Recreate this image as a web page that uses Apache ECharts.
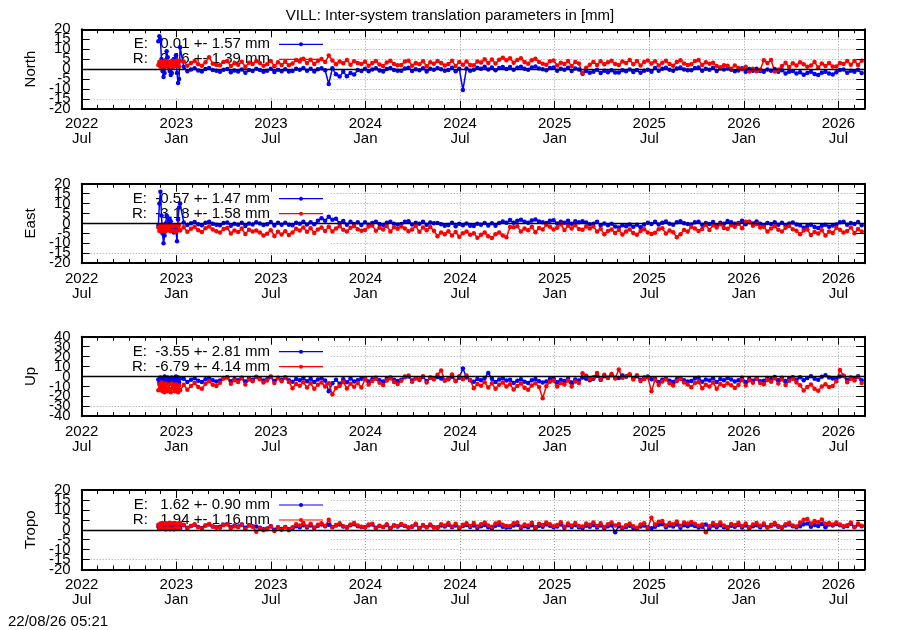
<!DOCTYPE html>
<html><head><meta charset="utf-8">
<script src="https://cdn.jsdelivr.net/npm/echarts@6/dist/echarts.min.js"></script>
<style>html,body{margin:0;padding:0;background:#fff}#c{width:900px;height:630px}</style>
</head><body><div id="c"></div>
<script>
const titleText = 'VILL: Inter-system translation parameters in [mm]';
const stampText = '22/08/26 05:21';
const panelNames = ['North', 'East', 'Up', 'Tropo'];
const yMins = [-20, -20, -40, -20];
const yMaxs = [20, 20, 40, 20];
const ySteps = [5, 5, 10, 5];
const statE = ['  0.01 +- 1.57', ' -0.57 +- 1.47', ' -3.55 +- 2.81', '  1.62 +- 0.90'];
const statR = ['  2.16 +- 1.39', ' -3.18 +- 1.58', ' -6.79 +- 4.14', '  1.94 +- 1.16'];
const monthNames = ['Jan','Feb','Mar','Apr','May','Jun','Jul','Aug','Sep','Oct','Nov','Dec'];
// x axis in days since 2022-07-01
const xMin = 0, xMax = 1511, xInterval = 182.625;
// sampling of the series: first 22 points every 2 days from day 148, then every 7 days from day 197
const firstDay = 148, denseStep = 2, denseCount = 22, mainFirstDay = 197, mainStep = 7;

const northE = [
14, 16.5, 15, 5, -1, -4, -2, 3, 9, 6, 1, -1, -3, -2, 3, 5, 2, 7, -2, -7, -5, 11,
1.2, -1.1, -0.2, 0.4, -0.7, -1.2, 0, 0.5, -0.5, -0.9,
-1.4, -0.3, 0, -1.6, -0.7, -1.2, -0.2, -1.8, -0.5, -1.0,
0.1, -0.5, -1.3, -0.9, 0.2, -1.5, -0.3, -1.1, -0.1, -1.2,
-1.0, 0.1, -0.4, 0.5, -0.8, 0.2, -1.2, -0.1, 0.4, -0.6,
-7.5, 0.4, -2.6, -3.8, -1.4, -3.6, -2.0, -2.8, -0.5, -1.0,
0.2, -1.1, -0.2, 0.4, -0.7, -1.2, 0, 0.5, -0.5, -0.9,
-0.8, 0.3, 0.6, -1.0, -0.1, -0.6, 0.4, -1.2, 0.1, -0.4,
0.5, -0.1, -0.9, -0.5, 0.6, -1.1, 0.2, -10.5, 0.3, -0.8,
-0.4, 0.7, 0.2, 1.1, -0.2, 0.8, -0.6, 0.5, 1.0, 0,
1.0, -0.3, 0.6, 1.2, 0.1, -0.4, 0.8, 1.3, 0.3, -0.1,
-0.6, 0.5, 0.8, -0.8, 0.1, -0.4, 0.6, -1.0, 0.3, -0.2,
-2.4, -1.0, -1.8, -1.4, -0.3, -2.0, -0.8, -1.6, -0.6, -1.7,
-1.7, -0.6, -1.1, -0.2, -1.5, -0.5, -1.9, -0.8, -0.3, -1.3,
0.5, -0.8, 0.1, 0.7, -0.4, -0.9, 0.3, 0.8, -0.2, -0.6,
-0.6, 0.5, 0.8, -0.8, 0.1, -0.4, 0.6, -1.0, 0.3, -0.2,
0.3, -0.3, -1.1, -0.7, 0.4, -1.3, 0, -0.9, 0.1, -1.0,
-1.3, -0.2, -0.8, 0, -1.4, -0.6, -2.2, -1.3, -1.0, -2.2,
-1.6, -2.9, -2.0, -1.4, -2.5, -3.0, -1.8, -1.3, -2.3, -2.7,
-1.6, -0.5, -0.2, -1.8, -0.9, -1.4, -0.4, -2.0
];
const northR = [
2, 3.5, 1.2, 3.8, 1.6, 0.8, 3.6, 1.4, 4, 1.8, 0.9, 3.7, 1.5, 4.2, 2, 1.1, 3.9, 1.7, 4.3, 2.1, 1.3, 4,
3.8, 1.7, 3.1, 4.1, 2.4, 1.6, 3.4, 6.0, 2.7, 2.0,
1.9, 3.6, 4.0, 1.5, 2.9, 2.2, 3.7, 1.2, 3.2, 2.5,
4.0, 3.0, 1.7, 2.4, 4.1, 1.4, 3.4, 2.1, 3.7, 1.9,
2.8, 4.5, 3.8, 5.2, 3.1, 4.7, 2.5, 4.2, 5.0, 3.5,
6.8, 4.3, 2.4, 3.8, 2.9, 4.6, 2.2, 3.9, 3.0, 2.5,
3.7, 1.6, 3.0, 4.0, 2.3, 1.5, 3.3, 4.2, 2.6, 1.9,
2.1, 3.8, 4.2, 1.7, 3.1, 2.4, 3.9, 1.4, 3.4, 2.7,
4.1, 3.1, 1.8, 2.5, 4.2, 1.5, 3.5, 2.2, 3.8, 2.0,
1.9, 3.8, 3.3, 4.9, 3.0, 4.8, 2.8, 4.7, 5.7, 4.4,
5.4, 3.2, 4.5, 5.4, 3.6, 2.7, 4.4, 5.2, 3.5, 2.7,
2.2, 3.9, 4.3, 1.8, 3.2, 2.5, 4.0, 1.5, 3.5, 2.8,
-2.2, 0.6, 2.2, 3.6, 2.0, 3.9, 2.4, 3.4, 4.2, 2.6,
2.1, 3.8, 3.1, 4.5, 2.4, 4.0, 1.8, 3.5, 4.3, 2.8,
3.9, 1.8, 3.2, 4.2, 2.5, 1.7, 3.5, 4.4, 2.8, 2.1,
2.4, 4.1, 4.5, 2.0, 3.4, 2.7, 3.2, 1.5, 0.9, 1.9,
1.6, 0.2, 1.8, 0.5, -0.1, 1.2, -1.2, 0.1, -1.1, -0.4,
4.4, 3.0, 4.6, -1.2, -0.3, 1.5, 3.2, 1.0, 2.9, 1.8,
3.4, 2.4, 1.1, 1.8, 3.5, 0.8, 2.8, 1.5, 3.1, 1.3,
1.3, 3.1, 2.6, 4.1, 2.2, 4.0, 2.0, 4.2
];
const eastE = [
-1, 10, 16, 4, -5, -10, -6, 0, 4, 3, 1, 2, 1, -1, -3.5, -4.5, -1, -3, -9, 2, 8, 10,
0.5, -0.8, 0.1, 0.7, -0.4, -0.9, 0.3, 0.8, -0.2, -0.6,
-0.9, 0.2, 0.5, -1.1, -0.2, -0.7, 0.3, -1.3, 0, -0.5,
0.6, 0, -0.8, -0.4, 0.7, -1.0, 0.3, -0.6, 0.4, -0.7,
-0.9, 0.3, -0.2, 0.8, -0.5, 0.6, -0.4, 1.4, 2.6, 1.3,
3.4, 1.8, 2.4, 0.1, 1.2, -0.6, 0.9, -0.3, 0.6, -0.8,
0.6, -0.7, 0.2, 0.8, -0.3, -0.8, 0.4, 0.9, -0.1, -0.5,
-0.3, 0.8, 1.1, -0.5, 0.4, -0.1, 0.9, -0.7, 0.5, 0.1,
0.2, -0.4, -1.2, -0.8, 0.3, -1.4, -0.2, -0.9, 0, -1.1,
-1.3, -0.2, -0.7, 0.2, -1.0, 0.1, -1.1, 0.2, 1.0, 0.3,
1.7, 0.4, 1.3, 1.9, 0.8, 0.3, 1.5, 2.0, 1.0, 0.6,
0.2, 1.3, 1.6, 0, 0.9, 0.4, 1.4, -0.2, 1.1, 0.6,
1.1, 0.5, -0.4, -0.1, 0.9, -1.0, 0, -0.9, -0.2, -1.5,
-2.0, -0.9, -1.4, -0.5, -1.7, -0.6, -1.9, -0.5, 0.4, -0.3,
0.8, -0.5, 0.4, 1.0, -0.1, -0.6, 0.6, 1.1, 0.1, -0.3,
-0.5, 0.6, 0.9, -0.7, 0.2, -0.3, 0.7, -0.9, 0.4, -0.1,
1.2, 0.6, -0.2, 0.2, 1.3, -0.4, 0.8, 0, 1.0, -0.1,
-0.9, 0.2, -0.3, 0.6, -0.7, 0.3, -1.1, 0, 0.5, -0.5,
-0.9, -2.2, -1.3, -0.7, -1.8, -2.3, -1.1, -0.6, -1.6, -1.0,
-0.5, 0.6, 0.9, -0.7, 0.2, -0.3, 0.7, -0.9
];
const eastR = [
-2, -3.8, -1, -3.5, -0.8, -3.6, -1.2, -4, -1.5, -0.6, -3.4, -1, -3.9, -1.4, -0.9, -3.7, -1.3, -4.1, -1.1, -3.4, -0.7, -3.6,
-1.9, -4.2, -2.7, -1.6, -3.4, -4.3, -2.4, -1.5, -3.1, -3.9,
-4.6, -2.8, -2.3, -5.0, -3.5, -4.3, -2.6, -5.3, -3.2, -4.0,
-3.6, -4.6, -6.0, -5.2, -3.4, -6.3, -4.2, -5.5, -3.9, -5.8,
-4.5, -2.7, -3.5, -2.0, -4.2, -2.4, -4.8, -3.0, -2.1, -3.8,
-1.7, -4.0, -2.5, -1.4, -3.2, -4.1, -2.2, -1.3, -2.9, -3.7,
-3.3, -1.5, -1.0, -3.7, -2.2, -3.0, -1.3, -4.0, -1.9, -2.7,
-1.5, -2.5, -3.9, -3.1, -1.3, -4.2, -2.1, -3.4, -1.8, -3.7,
-6.4, -4.6, -5.4, -3.9, -6.1, -4.3, -6.7, -4.9, -4.0, -5.7,
-4.9, -7.2, -5.7, -4.6, -6.4, -7.3, -5.4, -4.5, -6.1, -6.9,
-1.8, -1.9, -1.4, -4.1, -2.6, -3.4, -1.7, -4.4, -2.3, -3.1,
-0.6, -1.6, -3.0, -2.2, -0.4, -3.3, -1.2, -2.5, -0.9, -2.8,
-3.2, -1.5, -2.6, -1.5, -4.1, -2.7, -5.4, -3.8, -3.0, -4.8,
-3.3, -5.6, -4.1, -3.0, -4.8, -5.7, -3.8, -2.9, -4.5, -5.3,
-4.7, -2.9, -2.4, -5.1, -3.6, -4.4, -6.9, -5.4, -3.3, -4.1,
-1.7, -2.6, -3.8, -2.8, -0.7, -3.3, -0.9, -2.1, -0.4, -2.3,
-2.7, -0.9, -1.7, -0.2, -2.4, 0.9, 0.6, -1.2, -0.3, -2.0,
-1.7, -4.0, -2.5, -1.4, -3.2, -4.1, -2.2, -1.3, -2.9, -3.7,
-5.4, -3.6, -3.1, -5.8, -4.3, -5.1, -3.4, -6.1, -4.0, -4.8,
-2.2, -3.2, -4.6, -3.8, -2.0, -4.9, -2.8, -4.1
];
const upE = [
-3, -6, -1, -5, -7, -2, 0, -5, -6, -1, -5, -2, -7, -1, -5, -6, -2, 0, -5, -1, -6, -2,
-2.2, -5.5, -3.3, -1.7, -4.4, -5.7, -2.8, -1.5, -3.9, -5.0,
-4.1, -1.5, -0.8, -4.8, -2.6, -3.7, -1.2, -5.2, -2.1, -3.2,
-0.5, -2.1, -4.0, -2.9, -0.3, -4.5, -1.4, -3.4, -1.0, -3.8,
-5.3, -2.6, -3.7, -1.5, -4.8, -2.2, -5.7, -3.1, -1.7, -4.2,
-15, -6.8, -3.2, -7.4, -2.8, -5.9, -2.0, -5.2, -3.8, -2.4,
-1.7, -5.0, -2.8, -1.2, -3.9, -5.2, -2.3, -1.0, -3.4, -4.5,
-3.4, -0.8, -0.1, -4.1, -1.9, -3.0, -0.5, -4.5, -1.4, -2.5,
-0.5, -2.1, -4.0, -2.9, -0.3, -4.5, -1.4, 8, -1.0, -3.8,
-5.3, -2.6, -3.7, -1.5, 3.5, -2.2, -5.7, -3.1, -1.7, -4.2,
-3.2, -6.5, -4.3, -2.7, -5.4, -6.7, -3.8, -2.5, -4.9, -6.0,
-5.1, -2.5, -1.8, -5.8, -3.6, -4.7, -2.2, -6.2, -3.1, -4.2,
-1.0, -2.3, -3.8, -2.4, 0.6, -3.3, 0.1, -1.5, 1.2, -1.3,
-1.5, 0.9, -0.4, 1.5, -2.1, 0.3, -3.5, -1.1, 0, -2.7,
-2.2, -5.5, -3.3, -1.7, -4.4, -5.7, -2.8, -1.5, -3.9, -5.0,
-4.6, -2.0, -1.3, -5.3, -3.1, -4.2, -1.7, -5.7, -2.6, -3.7,
-1.5, -3.1, -5.0, -3.9, -1.3, -5.5, -2.4, -4.4, -2.0, -4.8,
-4.3, -1.6, -2.7, -0.5, -3.8, -1.2, -4.7, -2.1, -0.7, -3.2,
-0.7, -3.8, -1.5, 0.3, -2.2, -3.4, -0.3, 1.2, -1.1, -2.0,
-2.6, 0, 0.7, -3.3, -1.1, -2.2, 0.3, -3.7
];
const upR = [
-14, -8, -13, -6, -15, -9, -16, -7, -12, -15, -8, -13, -16, -7, -12, -9, -15, -8, -13, -16, -9, -14,
-8.4, -13.4, -9.5, -6.7, -10.5, -12.3, -7.4, -4.9, -8.3, -9.7,
-6.3, -2.1, -1.0, -7.3, -3.8, -5.6, -1.7, -8.0, -3.1, -4.9,
-0.4, -2.8, -6.0, -4.2, 0, -6.7, -1.8, -4.9, -1.1, -5.6,
-11.8, -7.6, -9.4, -5.9, -11.1, -6.9, -12.5, -8.3, -6.2, -10.1,
-6.9, -18, -11.5, -9.7, -5.5, -12.2, -7.3, -10.4, -6.6, -11.1,
-2.9, -8.2, -4.7, -2.2, -6.4, -8.5, -4.0, -1.9, -5.7, -7.5,
-4.3, 0, 1.0, -5.3, -1.8, -3.6, 0.3, -6.0, -1.1, -2.9,
1.7, 6.0, -4.0, -2.2, 2.0, -4.7, 0.3, -2.9, 1.0, -3.6,
-11.8, -7.6, -9.4, -5.9, -11.1, -6.9, -12.5, -8.3, -6.2, -10.1,
-7.9, -13.2, -9.7, -7.2, -11.4, -13.5, -9.0, -6.9, -10.7, -22,
-9.8, -5.4, -4.1, -10.2, -6.5, -8.1, -4.0, -10.1, -5.0, -6.6,
3.2, 0.7, -2.5, -0.7, 3.5, -3.2, 1.8, -1.4, 2.5, -2.1,
7.0, -1.4, 0.3, 2.2, -3.0, 1.1, -4.5, -2.5, -0.8, -15,
-3.4, -8.7, -5.2, -2.7, -6.9, -9.0, -4.5, -2.4, -6.2, -8.0,
-10.8, -6.6, -5.5, -11.8, -8.3, -10.1, -6.2, -12.5, -7.6, -9.4,
-6.9, -8.8, -11.5, -8.7, -3.5, -9.2, -3.8, -6.4, -2.1, -6.6,
-7.8, -3.6, -5.4, -1.9, -7.1, -2.9, -8.5, -4.3, -2.2, -6.1,
-8.9, -14.2, -10.7, -8.2, -12.4, -14.5, -10.0, -7.9, -10.5, -9.5,
-4.8, 6.5, 0.5, -5.8, -2.3, -4.1, -0.2, -6.5
];
const tropoE = [
1.5, 0.4, 2.4, 0.8, 2.6, 0.5, 2.2, 0.3, 2.7, 0.6, 2.3, 0.4, 2.8, 0.7, 2.5, 0.3, 2.6, 0.6, 2.4, 0.5, 2.7, 0.8,
2.3, 1.0, 1.9, 2.5, 1.4, 0.9, 2.1, 2.6, 1.6, 1.2,
1.5, 2.5, 2.8, 1.2, 2.1, 1.6, 2.6, 1.0, 2.3, 1.8,
1.6, 1.0, 0.2, 0.6, 1.7, 0, 1.3, 0.4, 1.4, 0.3,
0.6, 1.8, 1.3, 2.3, 1.1, 2.2, 0.9, 2.0, 2.6, 1.7,
2.5, 1.2, 2.1, 2.7, 1.6, 1.1, 2.3, 2.8, 1.8, 1.4,
1.3, 2.3, 2.6, 1.0, 1.9, 1.4, 2.4, 0.8, 2.1, 1.6,
2.5, 1.9, 1.1, 1.5, 2.6, 0.9, 2.2, 1.3, 2.3, 1.2,
1.0, 2.1, 1.6, 2.5, 1.2, 2.2, 0.8, 1.9, 2.4, 1.4,
2.2, 0.9, 1.8, 2.4, 1.3, 0.8, 2.0, 2.5, 1.5, 1.1,
1.2, 2.2, 2.5, 0.9, 1.8, 1.3, 2.3, 0.7, 2.0, 1.5,
2.6, 2.0, 1.2, 1.6, 2.7, 1.0, 2.3, 1.4, 2.4, 1.3,
0.9, 2.0, 1.5, 2.4, 1.1, 2.1, 0.7, 1.8, 2.3, -1.2,
1.8, 0.5, 1.4, 2.0, 0.9, 0.4, 1.6, 2.1, 1.1, 0.7,
1.5, 2.5, 2.8, 1.2, 2.1, 1.6, 2.6, 1.0, 2.3, 1.8,
2.5, 1.9, 1.1, 1.5, 2.6, 0.9, 2.2, 1.3, 2.3, 1.2,
0.9, 2.0, 1.5, 2.4, 1.1, 2.1, 0.7, 1.8, 2.3, 1.3,
2.4, 1.1, 2.0, 2.6, 1.5, 1.0, 2.2, 2.7, 1.7, 1.3,
1.8, 2.8, 3.1, 1.5, 2.4, 1.9, 2.9, 1.3, 2.6, 2.1,
2.9, 2.3, 1.5, 1.9, 3.0, 1.3, 2.6, 1.7
];
const tropoR = [
2.5, 0.6, 3.2, 0.9, 3.4, 0.5, 2.9, 3.3, 0.7, 3.1, 0.8, 3.5, 0.4, 3, 3.3, 0.6, 3.4, 1, 0.5, 3.2, 0.8, 3.4,
2.5, 0.7, 1.9, 2.8, 1.3, 0.6, 2.2, 2.9, 1.6, 1.0,
1.0, 2.4, 2.8, 0.6, 1.8, 1.2, 2.6, 0.4, 2.1, 1.5,
-1.0, 0.7, -0.3, 0.3, 1.7, -0.6, 1.1, 0, 1.3, -0.2,
1.3, 2.8, 2.2, 3.4, 1.6, 3.0, 1.1, 2.5, 3.3, 1.9,
5.0, 1.2, 2.4, 3.3, 1.8, 1.1, 2.7, 3.4, 2.1, 1.5,
1.2, 2.6, 3.0, 0.8, 2.0, 1.4, 2.8, 0.6, 2.3, 1.7,
2.9, 2.0, 1.0, 1.6, 3.0, 0.7, 2.4, 1.3, 2.6, 1.1,
1.3, 2.8, 2.2, 3.4, 1.6, 3.0, 1.1, 2.5, 3.3, 1.9,
3.4, 1.6, 2.8, 3.7, 2.2, 1.5, 3.1, 3.8, 2.5, 1.9,
1.9, 3.3, 3.7, 1.5, 2.7, 2.1, 3.5, 1.3, 3.0, 2.4,
3.7, 2.8, 1.8, 2.4, 3.8, 1.5, 3.2, 2.1, 3.4, 1.9,
1.6, 3.1, 2.5, 3.7, 1.9, 3.3, 1.4, 2.8, 3.6, 2.2,
2.9, 1.1, 2.3, 3.2, 1.7, 1.0, 2.6, 3.3, 0.8, 6.0,
2.6, 4.0, 4.4, 2.2, 3.4, 2.8, 4.2, 2.0, 3.7, 3.1,
3.9, 3.0, 2.0, 2.6, -1.3, 1.7, 3.4, 2.3, 3.6, 2.1,
1.4, 2.9, 2.3, 3.5, 1.7, 3.1, 1.2, 2.6, 3.4, 2.0,
3.1, 1.3, 2.5, 3.4, 1.9, 1.2, 2.8, 3.5, 2.2, 1.6,
3.6, 5.0, 5.4, 3.2, 4.4, 3.8, 5.2, 3.0, 3.4, 2.6,
3.6, 2.7, 1.7, 2.3, 3.7, 1.4, 3.1, 2.0
];
const seriesE = [northE, eastE, upE, tropoE];
const seriesR = [northR, eastR, upR, tropoR];

// ---- layout ----
const FONT = 'Liberation Sans, Arial, Helvetica, sans-serif';
const FS = 15;
const gridLeft = 81.7, gridWidth = 782.6, gridHeight = 79.5;
const gridTops = [29.3, 183.7, 336.7, 490];
const keyRight = 331;
const BLUE = '#0000ff', RED = '#ff0000';

function dayOf(i) {
  return i < denseCount ? firstDay + denseStep * i : mainFirstDay + mainStep * (i - denseCount);
}
function fmtX(v) {
  if (v > xMax - 20) return '';
  const d = new Date(Date.UTC(2022, 6, 1) + (v + 15) * 864e5);
  return d.getUTCFullYear() + '\n' + monthNames[d.getUTCMonth()];
}

const chart = echarts.init(document.getElementById('c'), null, {renderer: 'canvas'});
const grid = [], xAxis = [], yAxis = [], series = [], elements = [];

gridTops.forEach((top, p) => {
  grid.push({left: gridLeft, top: top, width: gridWidth, height: gridHeight, show: false});
  const xBase = {gridIndex: p, type: 'value', min: xMin, max: xMax, interval: xInterval};
  const tickStyle = {color: '#000', width: 1};
  xAxis.push(Object.assign({}, xBase, {
    position: 'bottom', z: 3,
    axisLine: {show: true, onZero: false, lineStyle: {color: '#000', width: 2}},
    axisTick: {show: true, inside: true, length: 8, lineStyle: tickStyle},
    minorTick: {show: true, splitNumber: 6, length: 4, lineStyle: tickStyle},
    axisLabel: {show: true, formatter: fmtX, color: '#000', fontSize: FS, fontFamily: FONT,
      lineHeight: 15, margin: 8, showMinLabel: true, showMaxLabel: true, hideOverlap: false},
    splitLine: {show: false}
  }));
  xAxis.push(Object.assign({}, xBase, {
    position: 'top', z: 3,
    axisLine: {show: true, onZero: false, lineStyle: {color: '#000', width: 2}},
    axisTick: {show: true, inside: true, length: 8, lineStyle: tickStyle},
    minorTick: {show: true, splitNumber: 6, length: 4, lineStyle: tickStyle},
    axisLabel: {show: false}, splitLine: {show: false}
  }));
  xAxis.push(Object.assign({}, xBase, {
    position: 'bottom', z: 0,
    axisLine: {show: false, onZero: false}, axisTick: {show: false}, axisLabel: {show: false},
    splitLine: {show: true, lineStyle: {color: '#a0a0a0', width: 1, type: [1, 2]}}
  }));
  const yBase = {gridIndex: p, type: 'value', min: yMins[p], max: yMaxs[p], interval: ySteps[p]};
  yAxis.push(Object.assign({}, yBase, {
    position: 'left', z: 3,
    axisLine: {show: true, onZero: false, lineStyle: {color: '#000', width: 2}},
    axisTick: {show: true, inside: true, length: 8, lineStyle: tickStyle},
    axisLabel: {show: false},
    splitLine: {show: false}
  }));
  yAxis.push(Object.assign({}, yBase, {
    position: 'right', z: 3,
    axisLine: {show: true, onZero: false, lineStyle: {color: '#000', width: 2}},
    axisTick: {show: true, inside: true, length: 8, lineStyle: tickStyle},
    axisLabel: {show: false}, splitLine: {show: false}
  }));
  yAxis.push(Object.assign({}, yBase, {
    position: 'left', z: 0,
    axisLine: {show: false, onZero: false}, axisTick: {show: false}, axisLabel: {show: false},
    splitLine: {show: true, lineStyle: {color: '#a0a0a0', width: 1, type: [1, 2]}}
  }));

  const mk = (arr, color, extra) => Object.assign({
    type: 'line', xAxisIndex: 3 * p, yAxisIndex: 3 * p,
    data: arr.map((v, i) => [dayOf(i), v]),
    symbol: 'circle', symbolSize: 4.5, showSymbol: true, showAllSymbol: true,
    lineStyle: {color: color, width: 1.5}, itemStyle: {color: color},
    animation: false, silent: true, z: 2
  }, extra || {});
  series.push(mk(seriesE[p], BLUE));
  series.push(mk(seriesR[p], RED, {
    markLine: {silent: true, animation: false, symbol: ['none', 'none'], label: {show: false},
      lineStyle: {color: '#000', width: 1.3, type: 'solid'}, data: [{yAxis: 0}]}
  }));

  // opaque key area (hides grid behind the key, except the lowest grid line)
  const bottom = top + gridHeight;
  const yLow = top + gridHeight * (1 - ySteps[p] / (yMaxs[p] - yMins[p]));
  elements.push({type: 'rect', z: 1, silent: true,
    shape: {x: gridLeft + 1, y: top + 1, width: keyRight - gridLeft - 1, height: yLow - top - 1.8},
    style: {fill: '#fff'}});
  elements.push({type: 'rect', z: 1, silent: true,
    shape: {x: gridLeft + 1, y: yLow + 0.8, width: keyRight - gridLeft - 1, height: bottom - yLow - 1.8},
    style: {fill: '#fff'}});
  // y label
  elements.push({type: 'text', z: 1, x: 31, y: top + gridHeight / 2, rotation: Math.PI / 2,
    style: {text: panelNames[p], font: FS + 'px ' + FONT, fill: '#000', align: 'center', verticalAlign: 'middle'}});
  // key
  [['E: ' + statE[p] + ' mm', BLUE, 15], ['R: ' + statR[p] + ' mm', RED, 30]].forEach(k => {
    elements.push({type: 'text', z: 1, x: 270, y: top + k[2],
      style: {text: k[0], font: FS + 'px ' + FONT, fill: '#000', align: 'right', verticalAlign: 'middle'}});
    elements.push({type: 'line', z: 1, shape: {x1: 279, y1: top + k[2], x2: 323, y2: top + k[2]},
      style: {stroke: k[1], lineWidth: 1.2}});
    elements.push({type: 'circle', z: 1, shape: {cx: 301, cy: top + k[2], r: 2}, style: {fill: k[1]}});
  });
});

elements.push({type: 'text', x: 450, y: 16,
  style: {text: titleText, font: FS + 'px ' + FONT, fill: '#000', align: 'center', verticalAlign: 'middle'}});
elements.push({type: 'text', x: 8, y: 622,
  style: {text: stampText, font: FS + 'px ' + FONT, fill: '#000', align: 'left', verticalAlign: 'middle'}});

chart.setOption({
  backgroundColor: '#fff', animation: false,
  grid: grid, xAxis: xAxis, yAxis: yAxis, series: series,
  graphic: {elements: elements}
});

// y tick labels (all of them, overlapping as in the original), placed by the axis scale
gridTops.forEach((top, p) => {
  for (let v = yMins[p]; v <= yMaxs[p]; v += ySteps[p]) {
    const px = chart.convertToPixel({gridIndex: p}, [xMin, v]);
    elements.push({type: 'text', z: 3, x: px[0] - 11, y: px[1],
      style: {text: String(v), font: FS + 'px ' + FONT, fill: '#000', align: 'right', verticalAlign: 'middle'}});
  }
});
chart.setOption({graphic: {elements: elements}});
</script>
</body></html>
